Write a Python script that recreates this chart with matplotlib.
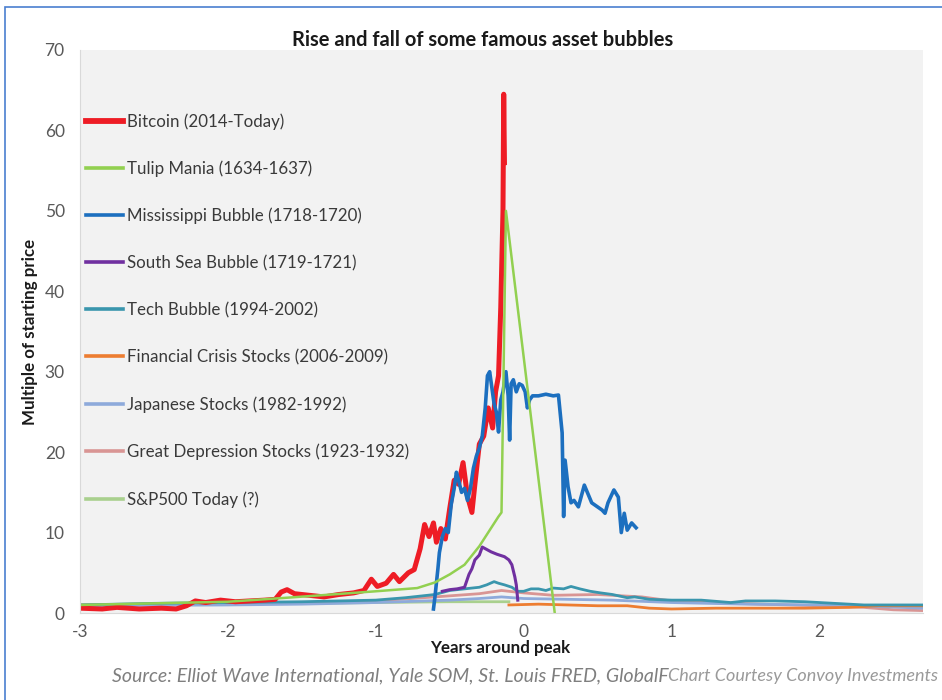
import matplotlib
matplotlib.use("Agg")
import matplotlib.pyplot as plt
from matplotlib.patches import Rectangle

plt.rcParams['font.family'] = ['Lato', 'DejaVu Sans']

# ---- data (years around peak, multiple of start price)
btc_x = [-3.0, -2.85, -2.75, -2.6, -2.45, -2.35, -2.28, -2.22, -2.15, -2.05, -1.95, -1.85,
         -1.75, -1.68, -1.64, -1.6, -1.55, -1.45, -1.35, -1.25, -1.15, -1.08, -1.03, -0.99,
         -0.93, -0.88, -0.84, -0.78, -0.74, -0.7, -0.67, -0.64, -0.61, -0.59, -0.56, -0.53,
         -0.5, -0.47, -0.44, -0.41, -0.38, -0.35, -0.33, -0.3, -0.27, -0.24, -0.21, -0.19,
         -0.17, -0.155, -0.14, -0.135, -0.13]
btc_y = [0.6, 0.5, 0.7, 0.5, 0.6, 0.5, 0.9, 1.5, 1.3, 1.6, 1.4, 1.5,
         1.6, 1.7, 2.6, 2.9, 2.4, 2.2, 2.0, 2.3, 2.5, 2.8, 4.2, 3.3,
         3.7, 4.8, 3.9, 5.0, 5.4, 8.0, 11.0, 9.5, 11.2, 8.8, 10.5, 9.2,
         13.0, 16.5, 16.0, 18.7, 14.5, 12.5, 16.0, 21.0, 22.0, 25.5, 23.0, 27.5,
         29.5, 38.0, 50.0, 64.5, 56.0]

tulip_x = [-3.0, -2.5, -2.0, -1.6, -1.3, -1.0, -0.72, -0.6, -0.5, -0.4, -0.3, -0.17, -0.15, -0.12, 0.21]
tulip_y = [1.0, 1.2, 1.4, 1.9, 2.3, 2.7, 3.1, 3.8, 4.8, 6.0, 8.3, 12.0, 12.5, 50.0, 0.0]

miss_x = [-0.61, -0.6, -0.58, -0.57, -0.55, -0.53, -0.51, -0.49, -0.47, -0.455, -0.44, -0.42,
          -0.4, -0.38, -0.36, -0.34, -0.32, -0.3, -0.28, -0.26, -0.245, -0.23, -0.215, -0.2,
          -0.185, -0.17, -0.155, -0.14, -0.12, -0.105, -0.095, -0.085, -0.07, -0.05, -0.03,
          -0.01, 0.01, 0.025, 0.04, 0.06, 0.1, 0.15, 0.2, 0.235, 0.26, 0.27, 0.28, 0.3, 0.32,
          0.34, 0.37, 0.41, 0.46, 0.53, 0.55, 0.57, 0.61, 0.64, 0.66, 0.68, 0.7, 0.73, 0.76]
miss_y = [0.5, 2.0, 5.5, 7.5, 9.5, 10.5, 10.0, 13.5, 15.5, 17.5, 16.5, 15.0,
          15.5, 14.0, 15.5, 18.0, 19.5, 20.5, 22.0, 25.5, 29.5, 30.0, 28.0, 26.0,
          25.0, 22.5, 26.5, 27.5, 30.0, 27.0, 21.5, 28.5, 29.0, 27.5, 28.5,
          28.3, 27.5, 25.5, 26.5, 27.0, 27.0, 27.2, 27.0, 27.1, 22.4, 12.0, 19.0, 15.7, 13.7,
          14.0, 13.2, 15.9, 13.7, 12.8, 12.4, 13.7, 15.3, 14.4, 10.0, 12.4, 10.3, 11.2, 10.6]

south_x = [-0.55, -0.5, -0.45, -0.4, -0.37, -0.35, -0.33, -0.3, -0.28, -0.26, -0.22, -0.18,
           -0.13, -0.1, -0.08, -0.06, -0.05, -0.04]
south_y = [2.7, 2.9, 3.0, 3.2, 4.8, 5.5, 6.6, 7.2, 8.2, 8.0, 7.6, 7.3,
           7.0, 6.6, 6.0, 4.5, 3.5, 1.6]

tech_x = [-3.0, -2.5, -2.0, -1.5, -1.0, -0.8, -0.6, -0.5, -0.4, -0.3, -0.25, -0.2, -0.17,
          -0.13, -0.08, -0.04, 0.0, 0.05, 0.1, 0.15, 0.2, 0.27, 0.32, 0.38, 0.45, 0.52, 0.6,
          0.7, 0.75, 0.85, 1.0, 1.2, 1.4, 1.5, 1.7, 1.9, 2.1, 2.3, 2.5, 2.7]
tech_y = [1.0, 1.2, 1.3, 1.4, 1.6, 1.9, 2.3, 2.8, 3.0, 3.2, 3.5, 3.9, 3.7,
          3.5, 3.2, 2.7, 2.7, 3.0, 3.0, 2.8, 3.1, 3.0, 3.3, 3.0, 2.7, 2.5, 2.3,
          1.9, 2.0, 1.7, 1.6, 1.6, 1.3, 1.5, 1.5, 1.4, 1.2, 1.0, 1.0, 1.0]

fin_x = [-0.1, 0.1, 0.3, 0.5, 0.7, 0.85, 1.0, 1.3, 1.6, 1.9, 2.2, 2.4, 2.7]
fin_y = [1.0, 1.1, 1.0, 0.9, 0.9, 0.6, 0.5, 0.6, 0.6, 0.6, 0.7, 0.9, 0.9]

japan_x = [-3.0, -2.0, -1.5, -1.0, -0.5, -0.3, -0.15, 0.0, 0.3, 0.6, 1.0, 1.5, 2.0, 2.4, 2.7]
japan_y = [0.9, 1.0, 1.1, 1.3, 1.6, 1.8, 2.0, 1.8, 1.7, 1.6, 1.3, 1.1, 1.0, 0.8, 0.6]

depr_x = [-3.0, -2.0, -1.5, -1.0, -0.6, -0.3, -0.15, 0.0, 0.2, 0.5, 0.8, 1.0, 1.3, 1.6,
          2.0, 2.3, 2.5, 2.7]
depr_y = [1.0, 1.1, 1.3, 1.5, 2.0, 2.4, 2.8, 2.5, 2.2, 2.3, 2.0, 1.5, 1.3, 1.1,
          0.9, 0.7, 0.4, 0.3]

spx_x = [-3.0, -2.5, -2.0, -1.5, -1.0, -0.5, -0.1]
spx_y = [1.0, 1.1, 1.2, 1.2, 1.3, 1.4, 1.4]

labels = ['Bitcoin (2014-Today)', 'Tulip Mania (1634-1637)', 'Mississippi Bubble (1718-1720)',
          'South Sea Bubble (1719-1721)', 'Tech Bubble (1994-2002)',
          'Financial Crisis Stocks (2006-2009)', 'Japanese Stocks (1982-1992)',
          'Great Depression Stocks (1923-1932)', 'S&P500 Today (?)']

fig = plt.figure(figsize=(9.42, 7.0), dpi=100)
ax = fig.add_axes([80 / 942, 1 - 613 / 700, 843 / 942, 563 / 700])
ax.set_facecolor('#f2f2f2')

# draw order: background series first, bubbles on top
h_spx, = ax.plot(spx_x, spx_y, color='#a9d08e', lw=2.0)
h_depr, = ax.plot(depr_x, depr_y, color='#d99594', lw=2.0)
h_japan, = ax.plot(japan_x, japan_y, color='#8eaadb', lw=2.0)
h_fin, = ax.plot(fin_x, fin_y, color='#ed7d31', lw=2.0)
h_tech, = ax.plot(tech_x, tech_y, color='#3a96ad', lw=2.0)
h_south, = ax.plot(south_x, south_y, color='#7030a0', lw=2.2)
h_btc, = ax.plot(btc_x, btc_y, color='#ee1c25', lw=3.6)
h_miss, = ax.plot(miss_x, miss_y, color='#1c6fbf', lw=2.6)
h_tulip, = ax.plot(tulip_x, tulip_y, color='#92d050', lw=1.8)

handles = [h_btc, h_tulip, h_miss, h_south, h_tech, h_fin, h_japan, h_depr, h_spx]
leg = ax.legend(handles, labels, loc='upper left', bbox_to_anchor=(0.007, 0.888),
                frameon=False, fontsize=12.2, labelspacing=1.82, handlelength=2.2,
                handletextpad=0.25, borderaxespad=0, borderpad=0)
for t in leg.get_texts():
    t.set_color('#3a3a3a')
leg.legend_handles[0].set_linewidth(4.2)
for lh in leg.legend_handles[1:]:
    lh.set_linewidth(2.6)

ax.set_xlim(-3, 2.7)
ax.set_ylim(0, 70)
ax.set_xticks([-3, -2, -1, 0, 1, 2])
ax.set_xticklabels(['-3', '-2', '-1', '0', '1', '2'])
ax.set_yticks(range(0, 71, 10))
ax.tick_params(length=0, labelsize=12.5, labelcolor='#595959')
ax.tick_params(axis='y', pad=11)
ax.tick_params(axis='x', pad=8)
for s in ['top', 'right']:
    ax.spines[s].set_visible(False)
for s in ['left', 'bottom']:
    ax.spines[s].set_color('#d9d9d9')

fig.text(483 / 942, 1 - 40 / 700, 'Rise and fall of some famous asset bubbles',
         ha='center', va='center', fontsize=14.5, fontweight='bold', color='#1a1a1a')
fig.text(30 / 942, 1 - 332 / 700, 'Multiple of starting price', rotation=90,
         ha='center', va='center', fontsize=12.2, fontweight='bold', color='#1a1a1a')
fig.text(500 / 942, 1 - 648 / 700, 'Years around peak', ha='center', va='center',
         fontsize=12.2, fontweight='bold', color='#1a1a1a')
fig.text(112 / 942, 1 - 676 / 700,
         'Source: Elliot Wave International, Yale SOM, St. Louis FRED, GlobalF',
         ha='left', va='center', fontsize=14.0, style='italic', color='#7f7f7f')
fig.text(938 / 942, 1 - 676 / 700, 'Chart Courtesy Convoy Investments',
         ha='right', va='center', fontsize=13.0, style='italic', color='#9a9a9a')

fig.add_artist(Rectangle((5 / 942, -0.1), 1.2, 1.1 - 7 / 700, transform=fig.transFigure,
                         fill=False, edgecolor='#4a7fd0', lw=1.2))

fig.savefig('out.png', dpi=100)
